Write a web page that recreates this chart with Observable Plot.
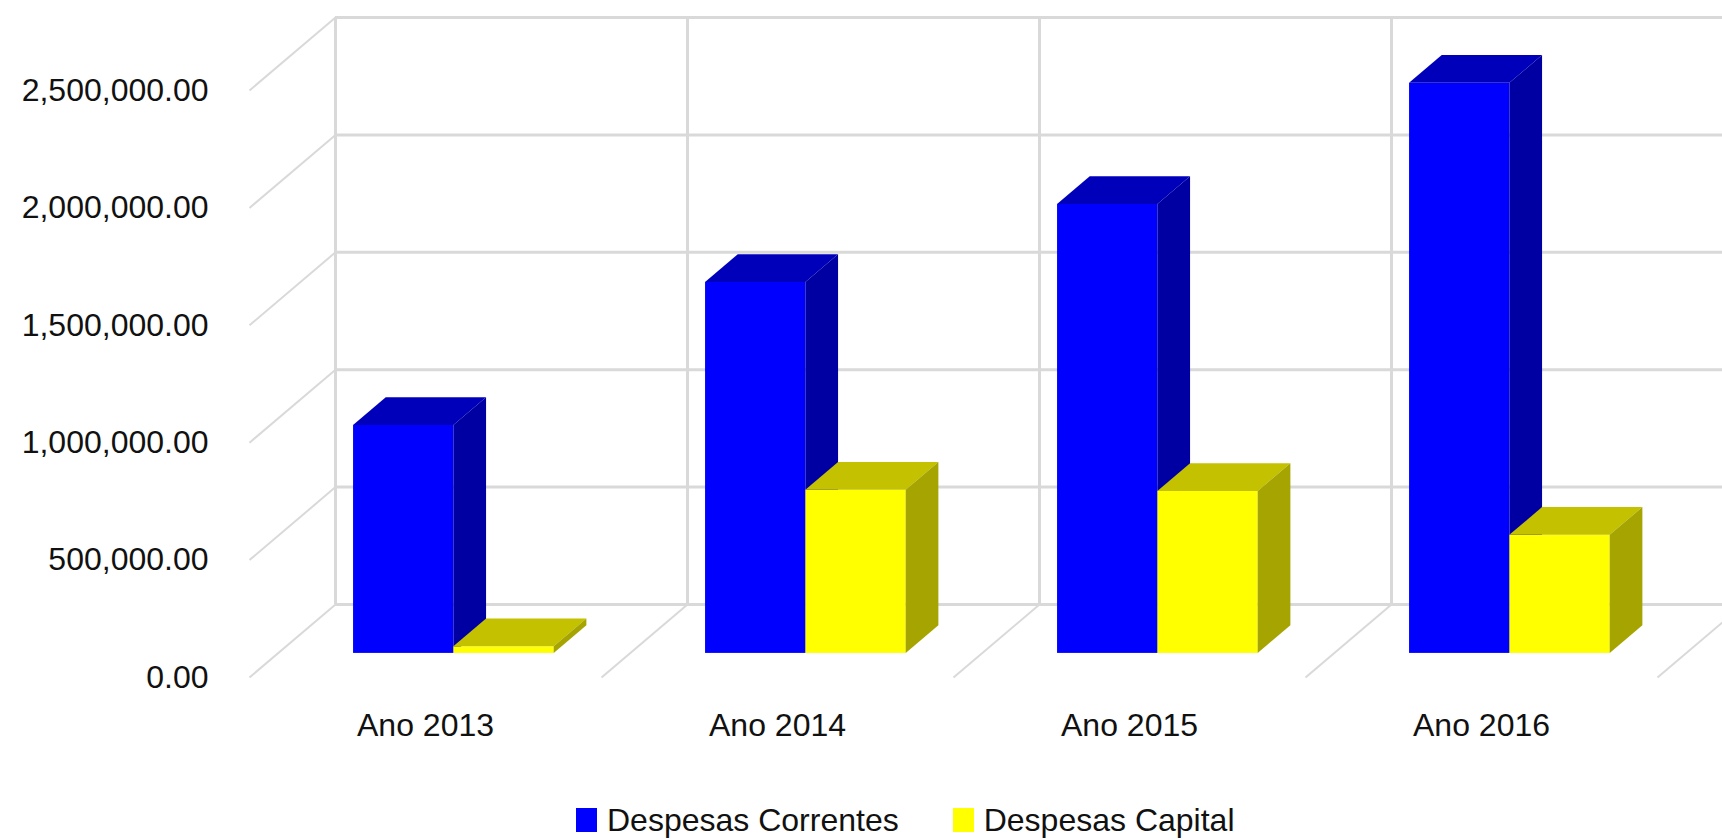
<!DOCTYPE html>
<html>
<head>
<meta charset="utf-8">
<script src="https://cdn.jsdelivr.net/npm/d3@7"></script>
<script src="https://cdn.jsdelivr.net/npm/@observablehq/plot@0.6"></script>
<style>
  html, body { margin: 0; padding: 0; background: #fff; overflow: hidden; }
  #chart svg { display: block; }
  .legend { display: flex; align-items: center; height: 40px; padding-left: 576px;
            font-family: "Liberation Sans", Arial, sans-serif; font-size: 32px; color: #111; }
  .sw { display: inline-block; width: 21px; height: 24px; }
</style>
</head>
<body>
<div id="chart"></div>
<div class="legend" id="legend"></div>
<script>
// ---- data ----
const categories = ["Ano 2013", "Ano 2014", "Ano 2015", "Ano 2016"];
const seriesNames = ["Despesas Correntes", "Despesas Capital"];
const despesasCorrentes = [971000, 1580000, 1912000, 2428000];
const despesasCapital = [28000, 695000, 690000, 503000];
const yTicks = [0, 500000, 1000000, 1500000, 2000000, 2500000];

// ---- styling / 3D layout constants ----
const seriesColors = [
  {front: "#0000ff", top: "#0000bb", side: "#0000a2"},
  {front: "#ffff00", top: "#c4c200", side: "#a6a400"}
];
const K = 86 / 352;       // full depth shift along x (category units)
const D = 310900;         // full depth shift along y (value units)
const z0 = 0.33, z1 = 0.71; // bar depth range (fraction of floor depth)
const barW = 0.285;
const gap = (1 - 2 * barW) / 2;
const grid = "#d9d9d9";

function barMarks(values, s) {
  const c = seriesColors[s];
  const bars = values.map((v, i) => {
    const x0 = i + gap + s * barW;
    return {id: `${s}-${i}`, xa: x0 + z0 * K, xb: x0 + barW + z0 * K, base: z0 * D, ya: v + z0 * D};
  });
  const dxz = (z1 - z0) * K, dyz = (z1 - z0) * D;
  const topPts = bars.flatMap(b => [
    {id: b.id, x: b.xa, y1: b.ya, y2: b.ya},
    {id: b.id, x: b.xa + dxz, y1: b.ya, y2: b.ya + dyz},
    {id: b.id, x: b.xb, y1: b.ya, y2: b.ya + dyz},
    {id: b.id, x: b.xb + dxz, y1: b.ya + dyz, y2: b.ya + dyz}
  ]);
  const sidePts = bars.flatMap(b => [
    {id: b.id, x: b.xb, y1: b.base, y2: b.ya},
    {id: b.id, x: b.xb + dxz, y1: b.base + dyz, y2: b.ya + dyz}
  ]);
  return [
    Plot.rect(bars, {x1: "xa", x2: "xb", y1: "base", y2: "ya", fill: c.front}),
    Plot.areaY(topPts, {x: "x", y1: "y1", y2: "y2", z: "id", fill: c.top, curve: "linear"}),
    Plot.areaY(sidePts, {x: "x", y1: "y1", y2: "y2", z: "id", fill: c.side, curve: "linear"})
  ];
}

const font = "Liberation Sans, Arial, sans-serif";

const chart = Plot.plot({
  width: 1722,
  height: 800,
  marginLeft: 249,
  marginRight: 65,
  marginTop: 90,
  marginBottom: 123,
  style: {fontFamily: font, fontSize: "32px", color: "#111", background: "#fff"},
  x: {type: "linear", domain: [0, 4], axis: null},
  y: {domain: [0, 2500000], axis: null},
  marks: [
    // back wall
    Plot.ruleY(yTicks, {y: d => d + D, x1: K, x2: 4.35, stroke: grid, strokeWidth: 3}),
    Plot.ruleX(d3.range(categories.length + 1), {x: i => i + K, y1: D, y2: yTicks[yTicks.length - 1] + D, stroke: grid, strokeWidth: 3}),
    // side wall diagonals
    Plot.link(yTicks, {x1: 0, y1: d => d, x2: K, y2: d => d + D, stroke: grid, strokeWidth: 2}),
    // floor diagonals
    Plot.link(d3.range(1, categories.length + 1), {x1: i => i, y1: 0, x2: i => i + K, y2: D, stroke: grid, strokeWidth: 2}),
    // bars
    ...barMarks(despesasCorrentes, 0),
    ...barMarks(despesasCapital, 1),
    // axes
    Plot.axisY(yTicks, {tickFormat: d3.format(",.2f"), tickSize: 0, tickPadding: 41, fontSize: 32, label: null}),
    Plot.axisX(categories.map((_, i) => i + 0.5), {tickFormat: d => categories[Math.floor(d)], tickSize: 0, tickPadding: 36, fontSize: 32, label: null})
  ]
});
document.getElementById("chart").appendChild(chart);

// legend
const legend = document.getElementById("legend");
seriesNames.forEach((name, s) => {
  const sw = document.createElement("span");
  sw.className = "sw";
  sw.style.background = seriesColors[s].front;
  sw.style.marginLeft = s === 0 ? "0px" : "54px";
  sw.style.marginRight = "10px";
  const t = document.createElement("span");
  t.textContent = name;
  legend.appendChild(sw);
  legend.appendChild(t);
});
</script>
</body>
</html>
